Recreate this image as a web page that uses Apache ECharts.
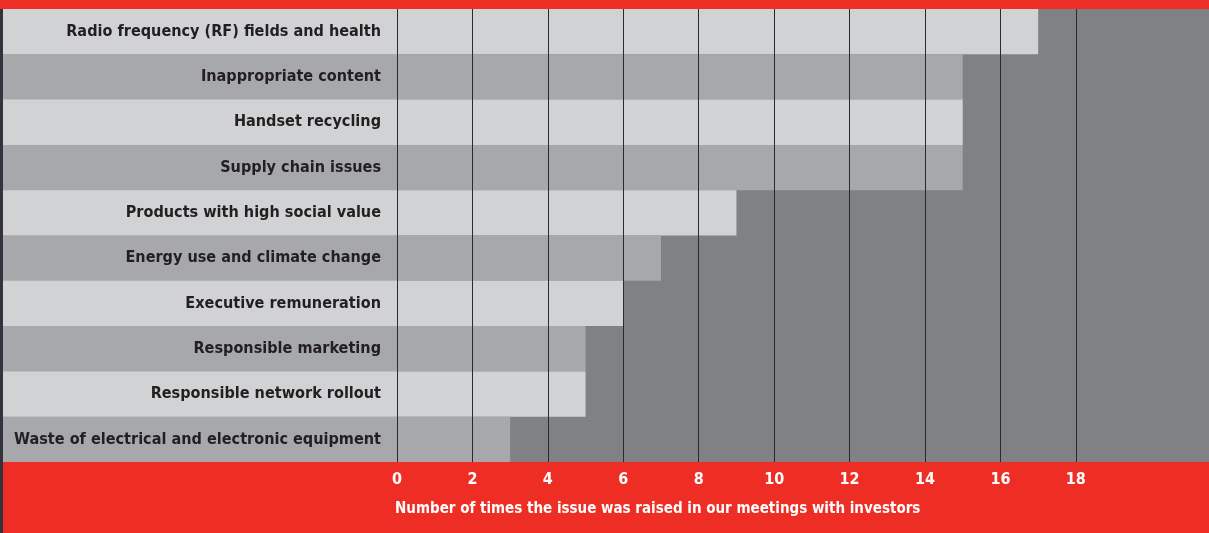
<!DOCTYPE html>
<html>
<head>
<meta charset="utf-8">
<script src="https://cdn.jsdelivr.net/npm/echarts@6/dist/echarts.min.js"></script>
<style>
  html, body { margin: 0; padding: 0; background: #ee2e24; }
  #wrap { position: relative; width: 1209px; height: 533px; }
  #main { width: 1209px; height: 533px; }
  /* thin photo edge on the far left of the original */
  #edge { position: absolute; left: 0; top: 9px; width: 3px; height: 524px; background: #34333d; z-index: 2; }
</style>
</head>
<body>
<div id="wrap">
  <div id="edge"></div>
  <div id="main"></div>
</div>
<script>
// issues, top to bottom
var issues = [
  'Radio frequency (RF) fields and health',
  'Inappropriate content',
  'Handset recycling',
  'Supply chain issues',
  'Products with high social value',
  'Energy use and climate change',
  'Executive remuneration',
  'Responsible marketing',
  'Responsible network rollout',
  'Waste of electrical and electronic equipment'
];
var timesRaised = [17, 15, 15, 15, 9, 7, 6, 5, 5, 3];
var axisTitle = 'Number of times the issue was raised in our meetings with investors';

var font = '"DejaVu Sans Condensed", "Liberation Sans Narrow", sans-serif';
var light = '#d1d2d4', mid = '#a7a8ab', dark = '#808185';

var chart = echarts.init(document.getElementById('main'));

// split lines at 0..18, none at 20
var lineColors = [];
for (var i = 0; i < 10; i++) lineColors.push('#2a2a2a');
lineColors.push('rgba(0,0,0,0)');

chart.setOption({
  backgroundColor: '#ee2e24',
  animation: false,
  title: {
    text: axisTitle,
    left: 390,
    top: 497,
    textStyle: { color: '#fff', fontFamily: font, fontWeight: 'bold', fontSize: 15 }
  },
  grid: [
    { left: 3, top: 9, width: 394, bottom: 71, outerBoundsMode: 'none', containLabel: false,
      show: true, backgroundColor: mid, borderWidth: 0 },
    { left: 397, top: 9, right: 0, bottom: 71, outerBoundsMode: 'none', containLabel: false,
      show: true, backgroundColor: dark, borderWidth: 0 }
  ],
  xAxis: [
    { gridIndex: 0, type: 'value', show: false },
    {
      gridIndex: 1, type: 'value', min: 0, max: 21.53, interval: 2, z: 5,
      axisLine: { show: false }, axisTick: { show: false },
      axisLabel: {
        color: '#fff', fontFamily: font, fontWeight: 'bold', fontSize: 16, margin: 10,
        formatter: function (v) { return v <= 18 ? String(v) : ''; }
      },
      splitLine: { show: true, showMaxLine: false, lineStyle: { color: lineColors, width: 1 } }
    }
  ],
  yAxis: [
    {
      gridIndex: 0, type: 'category', data: issues, inverse: true, position: 'right',
      axisLine: { show: false }, axisTick: { show: false },
      axisLabel: {
        inside: true, margin: 16, color: '#231f20',
        fontFamily: font, fontWeight: 'bold', fontSize: 16.1
      },
      splitArea: { show: true, areaStyle: { color: [light, mid] } }
    },
    {
      gridIndex: 1, type: 'category', data: issues, inverse: true, show: false
    }
  ],
  series: [{
    type: 'bar',
    xAxisIndex: 1,
    yAxisIndex: 1,
    barCategoryGap: 0,
    data: timesRaised.map(function (v, i) {
      return { value: v, itemStyle: { color: i % 2 === 0 ? light : mid } };
    })
  }]
});
</script>
</body>
</html>
